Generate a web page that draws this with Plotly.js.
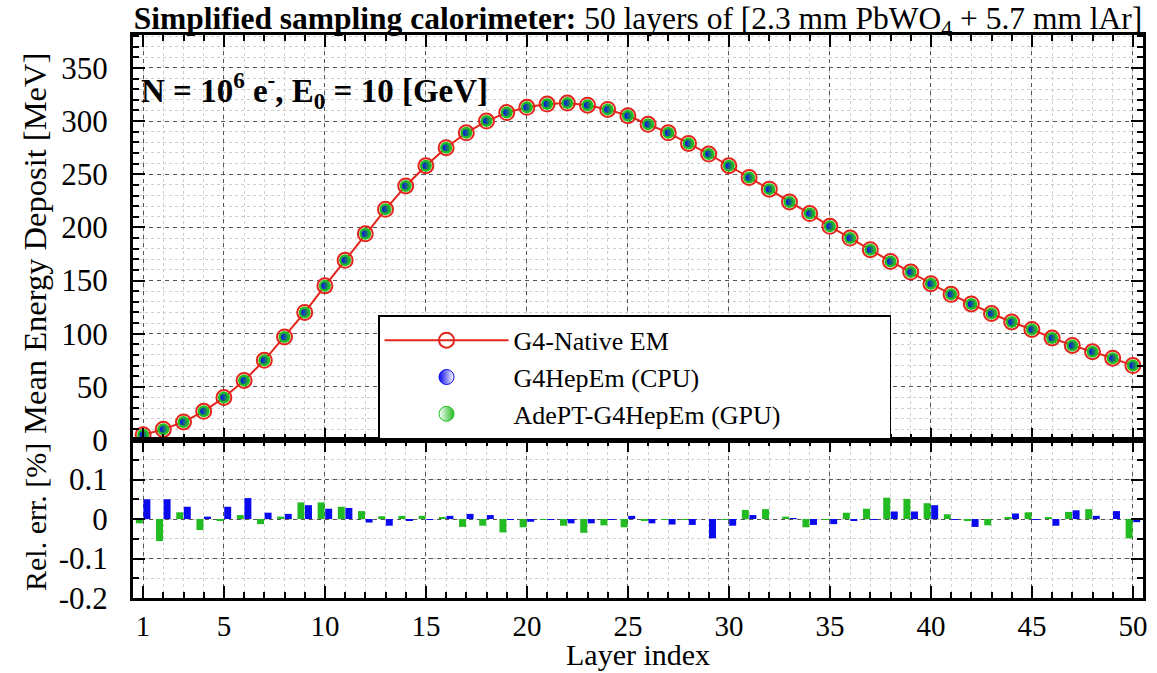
<!DOCTYPE html>
<html>
<head>
<meta charset="utf-8">
<script src="https://cdn.plot.ly/plotly-3.0.1.min.js"></script>
<style>html,body{margin:0;padding:0;background:#fff;}#chart{width:1157px;height:673px;}</style>
</head>
<body>
<div id="chart"></div>
<script>
// ---------- data ----------
const layers = Array.from({length: 50}, (_, i) => i + 1);
const edepNative = [5, 10, 17, 27, 40, 56, 75, 97, 120, 145,
                    169, 194, 217, 239, 258, 275, 289, 300, 308, 313,
                    316, 317, 315, 311, 305, 297, 289, 279, 269, 258,
                    247, 236, 224, 213, 201, 190, 179, 168, 158, 147,
                    137, 128, 119, 111, 104, 96, 89, 83, 77, 70];
const edepCPU = edepNative.slice();
const edepGPU = edepNative.slice();
const relErrGPU = [-0.011, -0.056, 0.017, -0.028, -0.003, 0.010, -0.013, 0.006, 0.042, 0.042,
                   0.031, 0.020, 0.007, 0.008, 0.008, 0.004, -0.020, -0.017, -0.034, -0.021,
                   -0.002, -0.017, -0.035, -0.016, -0.021, -0.004, -0.002, -0.001, 0.000, -0.001,
                   0.023, 0.025, 0.006, -0.021, -0.001, 0.016, 0.026, 0.054, 0.051, 0.040,
                   0.012, -0.003, -0.016, 0.004, 0.017, 0.003, 0.018, 0.025, 0.000, -0.049];
const relErrCPU = [0.050, 0.050, 0.031, 0.006, 0.031, 0.053, 0.016, 0.013, 0.035, 0.026,
                   0.028, -0.009, -0.017, -0.004, -0.001, 0.008, 0.013, 0.010, -0.001, -0.007,
                   -0.002, -0.011, -0.011, -0.001, 0.008, -0.011, -0.014, -0.015, -0.049, -0.017,
                   0.010, 0.000, 0.002, -0.015, -0.013, -0.004, -0.001, 0.019, 0.019, 0.035,
                   -0.002, -0.020, 0.000, 0.014, -0.002, -0.017, 0.022, 0.008, 0.020, -0.008];
const xTickVals = [1, 5, 10, 15, 20, 25, 30, 35, 40, 45, 50];
const relTickVals = [-0.2, -0.1, 0, 0.1];
const relTickText = ['-0.2', '-0.1', '0', '0.1'];
const seriesNames = ['G4-Native EM', 'G4HepEm (CPU)', 'AdePT-G4HepEm (GPU)'];

// ---------- style ----------
const RED = '#e3241b', BLUE = '#0a0aee', GREEN = '#22bb22';
const FONT = 'Liberation Serif';
const PAD = '&nbsp;'.repeat(16);   // widens the legend box like the reference

const traces = [
  {x: layers, y: edepNative, xaxis: 'x', yaxis: 'y', type: 'scatter', mode: 'lines+markers',
   name: seriesNames[0], line: {color: RED, width: 2},
   marker: {symbol: 'circle-open', size: 15, color: RED, line: {width: 2, color: RED}}},
  {x: layers, y: edepGPU, xaxis: 'x', yaxis: 'y', type: 'scatter', mode: 'markers',
   name: seriesNames[2], showlegend: false,
   marker: {symbol: 'circle', size: 12, color: GREEN}},
  {x: layers, y: edepCPU, xaxis: 'x', yaxis: 'y', type: 'scatter', mode: 'markers',
   name: seriesNames[1], showlegend: false,
   marker: {symbol: 'circle', size: 7, color: BLUE, gradient: {type: 'horizontal', color: 'rgba(10,10,238,0.15)'}}},
  // legend entries
  {x: [null], y: [null], xaxis: 'x', yaxis: 'y', type: 'scatter', mode: 'markers',
   name: seriesNames[1],
   marker: {symbol: 'circle', size: 15, color: BLUE, gradient: {type: 'horizontal', color: '#ffffff'},
            line: {color: BLUE, width: 1}}},
  {x: [null], y: [null], xaxis: 'x', yaxis: 'y', type: 'scatter', mode: 'markers',
   name: seriesNames[2] + PAD,
   marker: {symbol: 'circle', size: 15, color: '#ffffff', gradient: {type: 'horizontal', color: GREEN},
            line: {color: GREEN, width: 1}}},
  // relative error bars
  {x: layers, y: relErrGPU, xaxis: 'x2', yaxis: 'y2', type: 'bar', name: seriesNames[2],
   showlegend: false, marker: {color: GREEN}},
  {x: layers, y: relErrCPU, xaxis: 'x2', yaxis: 'y2', type: 'bar', name: seriesNames[1],
   showlegend: false, marker: {color: BLUE}}
];

const split = 158 / 563;
const majorGrid = {showgrid: true, gridcolor: '#555555', gridwidth: 1, griddash: '4px,4px'};
function xAxis(extra) {
  return Object.assign({
    range: [0.5, 50.5], tickmode: 'array', tickvals: xTickVals,
    ticks: 'inside', ticklen: 12, tickwidth: 2, tickcolor: '#000',
    showline: true, linewidth: 3, linecolor: '#000', mirror: 'ticks', zeroline: false,
    minor: {tickmode: 'linear', tick0: 0, dtick: 1, ticks: 'inside', ticklen: 6, tickwidth: 1.5,
            tickcolor: '#000', showgrid: true, gridcolor: '#cfcfcf', griddash: '3px,3px', gridwidth: 1}
  }, majorGrid, extra);
}

const layout = {
  width: 1157, height: 673,
  margin: {l: 133, r: 14, t: 35, b: 75},
  paper_bgcolor: '#fff', plot_bgcolor: '#fff',
  font: {family: FONT, color: '#000'},
  showlegend: true,
  barmode: 'group', bargap: 0.25, bargroupgap: 0.08,
  title: {
    text: '<b>Simplified sampling calorimeter:</b> 50 layers of [2.3 mm PbWO<sub>4</sub> + 5.7 mm lAr]',
    x: 0.5, xref: 'paper', xanchor: 'center', y: 0.973, yref: 'container', yanchor: 'middle',
    font: {family: FONT, size: 31.5, color: '#000'}
  },
  xaxis: xAxis({anchor: 'y', domain: [0, 1], showticklabels: false}),
  xaxis2: xAxis({anchor: 'y2', domain: [0, 1], matches: 'x', showticklabels: true,
    tickfont: {family: FONT, size: 29}, ticklabelstandoff: 0}),
  yaxis: Object.assign({
    domain: [split, 1], range: [0, 381], tick0: 0, dtick: 50,
    ticks: 'inside', ticklen: 12, tickwidth: 2, tickcolor: '#000',
    showline: true, linewidth: 3, linecolor: '#000', mirror: 'ticks', zeroline: false,
    tickfont: {family: FONT, size: 31}, ticklabelstandoff: 16,
    minor: {tick0: 0, dtick: 10, ticks: 'inside', ticklen: 6, tickwidth: 1.5, tickcolor: '#000',
            showgrid: true, gridcolor: '#cfcfcf', griddash: '3px,3px', gridwidth: 1}
  }, majorGrid),
  yaxis2: Object.assign({
    domain: [0, split], range: [-0.2, 0.2], tickmode: 'array', tickvals: relTickVals, ticktext: relTickText,
    ticks: 'inside', ticklen: 12, tickwidth: 2, tickcolor: '#000',
    showline: true, linewidth: 3, linecolor: '#000', mirror: 'ticks', zeroline: false,
    tickfont: {family: FONT, size: 31}, ticklabelstandoff: 16,
    minor: {tickmode: 'linear', tick0: 0, dtick: 0.05, ticks: 'inside', ticklen: 6, tickwidth: 1.5, tickcolor: '#000',
            showgrid: true, gridcolor: '#cfcfcf', griddash: '3px,3px', gridwidth: 1}
  }, majorGrid),
  legend: {
    x: 0.2426, xref: 'paper', xanchor: 'left', y: 0.392, yref: 'paper', yanchor: 'middle',
    bgcolor: '#fff', bordercolor: '#000', borderwidth: 1.5,
    font: {family: FONT, size: 26, color: '#000'}, itemwidth: 124,
    tracegroupgap: 0
  },
  annotations: [
    {text: '<b>N = 10<sup>6</sup> e<sup>-</sup>, E<sub>0</sub> = 10 [GeV]</b>', xref: 'paper', yref: 'paper',
     x: 0.006, y: 0.902, xanchor: 'left', yanchor: 'middle', showarrow: false,
     font: {family: FONT, size: 33, color: '#000'}},
    {text: 'Mean Energy Deposit [MeV]', xref: 'paper', yref: 'paper', x: -0.097, y: 0.629,
     xanchor: 'center', yanchor: 'middle', textangle: -90, showarrow: false,
     font: {family: FONT, size: 32.5, color: '#000'}},
    {text: 'Rel. err. [%]', xref: 'paper', yref: 'paper', x: -0.096, y: 0.144,
     xanchor: 'center', yanchor: 'middle', textangle: -90, showarrow: false,
     font: {family: FONT, size: 30, color: '#000'}},
    {text: 'Layer index', xref: 'paper', yref: 'paper', x: 0.5, y: -0.1,
     xanchor: 'center', yanchor: 'middle', showarrow: false,
     font: {family: FONT, size: 30, color: '#000'}}
  ]
};

Plotly.newPlot('chart', traces, layout, {displayModeBar: false, responsive: false});
</script>
</body>
</html>
